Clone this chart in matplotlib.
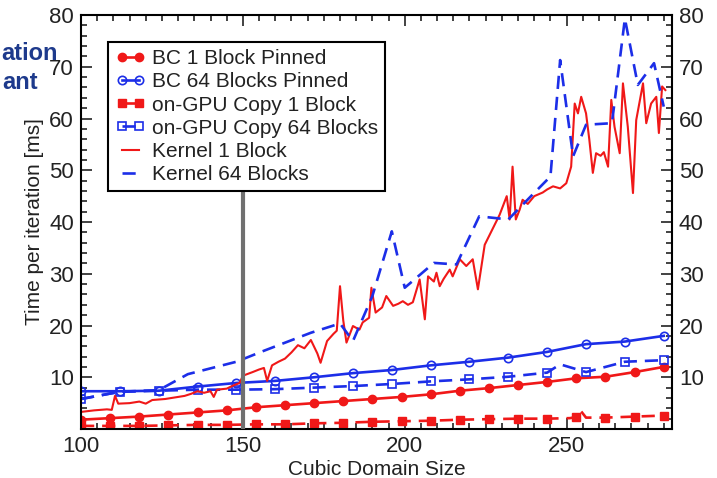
import matplotlib.pyplot as plt
from matplotlib.ticker import MultipleLocator

plt.rcParams['font.family'] = ['Liberation Sans', 'DejaVu Sans']

RED = '#f01818'
BLUE = '#1c2ee8'

# BC transfers (pinned), one marker per sample
bc1_x = [100, 109, 118, 127, 136, 145, 154, 163, 172, 181, 190,
         199, 208, 217, 226, 235, 244, 253, 262, 271, 280]
bc1_y = [1.8, 2.1, 2.4, 2.8, 3.2, 3.6, 4.2, 4.6, 5.0, 5.4, 5.8,
         6.2, 6.7, 7.4, 7.9, 8.5, 9.1, 9.8, 10.1, 11.0, 12.0]

bc64_x = [100, 112, 124, 136, 148, 160, 172, 184, 196, 208, 220, 232, 244, 256, 268, 280]
bc64_y = [7.3, 7.3, 7.4, 8.2, 8.9, 9.3, 10.0, 10.8, 11.4, 12.3, 13.0, 13.8, 14.9, 16.4, 16.9, 18.0]

# on-GPU copies (extra unmarked samples at the spikes)
gpu1_x = [100, 109, 118, 127, 136, 145, 154, 163, 172, 181, 190,
          199, 208, 217, 226, 235, 244, 251, 253, 254, 256, 262, 271, 280]
gpu1_y = [0.6, 0.6, 0.6, 0.7, 0.8, 0.8, 0.9, 0.9, 1.1, 1.2, 1.4,
          1.5, 1.6, 1.8, 1.9, 2.0, 2.0, 2.1, 2.3, 3.8, 2.2, 2.2, 2.4, 2.6]
gpu1_marks = [0, 1, 2, 3, 4, 5, 6, 7, 8, 9, 10, 11, 12, 13, 14, 15, 16, 18, 21, 22, 23]

gpu64_x = [100, 112, 124, 136, 148, 160, 172, 184, 196, 208, 220, 232, 244, 248, 256, 268, 280]
gpu64_y = [5.8, 7.2, 7.4, 7.6, 7.6, 7.7, 8.0, 8.3, 8.7, 9.2, 9.6, 10.1, 10.9, 12.5, 11.0, 13.0, 13.3]
gpu64_marks = [0, 1, 2, 3, 4, 5, 6, 7, 8, 9, 10, 11, 12, 14, 15, 16]

# kernel timings
k1_x = [100, 104, 108, 109.5, 110.5, 111.5, 115, 118, 120, 122, 126, 129, 132, 134, 136,
        138, 140, 141, 142, 145, 147, 149, 150, 153, 155, 156.5, 157.5, 159, 161, 163,
        165, 167, 169, 171, 173, 174, 176, 178, 179, 180, 181, 182, 184, 186, 187,
        189, 189.7, 191, 193, 194.3, 196.4, 198, 199.4, 201, 202.5, 204.6, 206.2, 207.2, 209, 209.8,
        210.8, 212, 213.9, 214.8, 217, 219, 221, 222.6, 224.7, 227, 229.3, 231.5, 232.4, 233.3, 234.3,
        235.5, 236.4, 238, 240, 242.6, 244, 245.8, 248, 249.9, 251.4, 252.5, 253.5, 254.5, 256, 257,
        258.1, 259.1, 260.5, 261.5, 262.8, 263.8, 264.8, 266.4, 267.4, 268.9, 270.5, 271.5, 273.6, 274.6, 276.1,
        277.7, 278.5, 279.5, 280.5]
k1_y = [3.3, 3.6, 3.8, 3.7, 6.4, 4.9, 5.0, 5.3, 4.9, 5.6, 5.8, 6.1, 6.4, 6.8, 7.3,
        7.0, 7.3, 6.2, 7.6, 7.8, 8.4, 8.9, 10.3, 11.0, 11.5, 11.8, 9.3, 12.3, 13.0, 13.6,
        14.8, 16.2, 15.6, 17.2, 14.6, 12.8, 17.0, 18.4, 19.0, 27.6, 21.0, 16.7, 19.9, 19.2, 20.6,
        21.5, 27.3, 22.5, 23.5, 25.7, 23.8, 24.2, 24.7, 24.0, 24.5, 28.9, 21.2, 29.5, 28.5, 30.2,
        27.6, 29.0, 30.8, 29.5, 32.8, 31.5, 32.8, 27.0, 35.6, 38.5, 41.4, 45.0, 40.5, 50.7, 40.5,
        42.4, 44.3, 43.5, 45.0, 45.7, 46.3, 46.9, 46.5, 47.5, 50.7, 62.9, 61.0, 64.2, 61.0, 56.0,
        49.5, 53.3, 52.8, 53.5, 50.7, 63.6, 58.4, 53.3, 66.8, 58.4, 45.6, 59.7, 66.8, 59.1, 62.9,
        64.2, 57.2, 66.2, 65.5]

k64_x = [100, 112, 124, 133, 148, 156, 161, 171, 180, 184, 190, 196, 200, 209, 216,
         223, 232, 239, 245, 248, 252, 256, 264, 268, 272, 277, 280]
k64_y = [5.8, 7.2, 7.5, 10.6, 13.0, 15.0, 16.2, 18.6, 20.4, 17.0, 25.7, 38.2, 27.3, 32.1, 31.8,
         41.1, 40.5, 45.0, 48.8, 71.3, 52.7, 58.8, 59.1, 79.3, 66.5, 70.7, 62.3]

fig = plt.figure(figsize=(7.17, 4.78), dpi=100)
ax = fig.add_axes([0.113, 0.1025, 0.824, 0.866])

ax.plot(bc1_x, bc1_y, color=RED, lw=1.9, marker='o', ms=6, label='BC 1 Block Pinned')
ax.plot(bc64_x, bc64_y, color=BLUE, lw=1.9, marker='o', ms=6, mfc='none', mew=1.2,
        label='BC 64 Blocks Pinned')
ax.plot(gpu1_x, gpu1_y, color=RED, lw=1.9, ls=(0, (5, 3)), marker='s', ms=6,
        markevery=gpu1_marks, label='on-GPU Copy 1 Block')
ax.plot(gpu64_x, gpu64_y, color=BLUE, lw=1.9, ls=(0, (5, 3)), marker='s', ms=6, mfc='none', mew=1.2,
        markevery=gpu64_marks, label='on-GPU Copy 64 Blocks')
ax.plot(k1_x, k1_y, color=RED, lw=1.5, label='Kernel 1 Block')
ax.plot(k64_x, k64_y, color=BLUE, lw=1.9, ls=(0, (5, 3)), label='Kernel 64 Blocks')

# slide annotation marker
ax.axvline(150, ymin=0, ymax=0.57, color='#707070', lw=3, zorder=5)

ax.set_xlim(100, 282.5)
ax.set_ylim(0, 80)
ax.xaxis.set_major_locator(MultipleLocator(50))
ax.xaxis.set_minor_locator(MultipleLocator(5))
ax.yaxis.set_minor_locator(MultipleLocator(2))
ax.set_yticks([10, 20, 30, 40, 50, 60, 70, 80])
ax.tick_params(which='both', direction='in', top=True, right=True, labelright=True,
               labelsize=16, colors='#222222', width=1.2)
ax.tick_params(which='major', length=8, pad=5)
ax.tick_params(which='minor', length=4)
for s in ax.spines.values():
    s.set_linewidth(1.5)

ax.set_xlabel('Cubic Domain Size', fontsize=15, color='#222222', labelpad=2)
ax.set_ylabel('Time per iteration [ms]', fontsize=15, color='#222222', labelpad=4)

leg = ax.legend(loc='upper left', bbox_to_anchor=(0.046, 0.935), borderaxespad=0,
                fontsize=15, numpoints=2, handlelength=1.45, handletextpad=0.3,
                labelspacing=0.2, borderpad=0.35, fancybox=False, framealpha=1,
                edgecolor='black')
leg.get_frame().set_linewidth(1.5)
for t in leg.get_texts():
    t.set_color('#222222')

# slide title fragments at the left edge
fig.text(1 / 717, 1 - 60 / 478, 'ation', ha='left', va='baseline',
         fontsize=17, fontweight='bold', color='#1e3a8c')
fig.text(2 / 717, 1 - 89 / 478, 'ant', ha='left', va='baseline',
         fontsize=17, fontweight='bold', color='#1e3a8c')

fig.savefig('out.png', dpi=100)
